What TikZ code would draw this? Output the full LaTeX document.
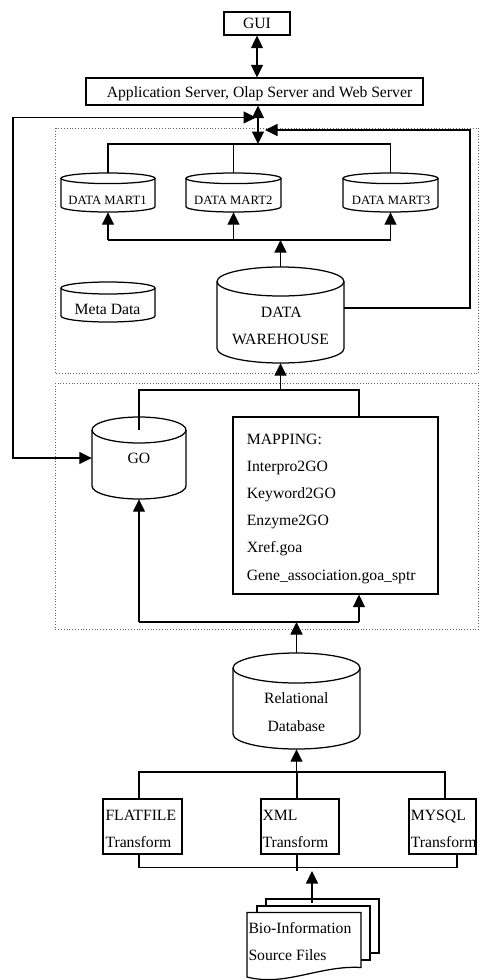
\documentclass[tikz,border=0pt]{standalone}
\usepackage{fontspec}
\setmainfont{Liberation Serif}
\usetikzlibrary{arrows.meta}
\newcommand\dbcyl[6]{%
  \pgfmathsetmacro\mycx{(#2+#4)/2}%
  \pgfmathsetmacro\myrx{(#4-#2)/2}%
  \pgfmathsetmacro\mycy{-(#3+#5)/2}%
  \pgfmathsetmacro\myhh{#5-#3}%
  \pgfmathsetmacro\mytopy{-(#3+#6)}%
  \pgfmathsetmacro\mybot{-(#5-#6)}%
  \node[minimum width={2*\myrx*1pt}, minimum height={\myhh*1pt}, inner sep=0pt, draw=none] (#1) at (\mycx,\mycy) {};
  \coordinate (#1-top) at (\mycx,\mytopy);
  \draw[cylline] (#1-top) ellipse[x radius=\myrx, y radius=#6];
  \draw[cylline] (#2,\mytopy) -- (#2,\mybot) arc[start angle=180,end angle=360,x radius=\myrx,y radius=#6] -- (#4,\mytopy);
}
\begin{document}
\begin{tikzpicture}[x=1pt,y=1pt,
  ln/.style={line width=1.25pt},
  arr/.style={ln,-{Triangle[length=12.5pt,width=12pt]}},
  dbl/.style={ln,{Triangle[length=12.5pt,width=12pt]}-{Triangle[length=12.5pt,width=12pt]}},
  boxn/.style={draw,line width=1.25pt,inner sep=0pt,rectangle},
  dotbox/.style={draw=black!60,dotted,line width=0.8pt},
  txt/.style={inner sep=0pt,font=\fontsize{15.7}{18}\selectfont},
  smtxt/.style={inner sep=0pt,font=\fontsize{12.7}{15}\selectfont},
  cylline/.style={line width=1.25pt}]
\useasboundingbox[fill=white] (0,0) rectangle (480,-980);

% dotted group boxes
\draw[dotbox] (55,-128) rectangle (478.5,-373);
\draw[dotbox] (55,-383) rectangle (478.5,-629);

% boxes
\node[boxn, minimum width=66pt, minimum height=23pt] (gui) at (257,-23.5) {};
\node[txt, anchor=base] (guit) at (257,-28.3) {GUI};
\node[boxn, minimum width=337pt, minimum height=27pt] (app) at (254.5,-91.5) {};
\node[txt, anchor=base] (appt) at (259.5,-97.5) {Application Server, Olap Server and Web Server};

% cylinders
\dbcyl{dm1}{61}{173}{155}{212}{5.3}
\dbcyl{dm2}{186}{173}{281}{212}{5.3}
\dbcyl{dm3}{343}{173}{438}{212}{5.3}
\dbcyl{meta}{61}{282}{155}{322}{6}
\dbcyl{dw}{217}{267}{344}{363}{14.5}
\dbcyl{go}{92}{417}{186}{499}{13}
\dbcyl{rdb}{233}{653}{360}{749}{15}

\node[smtxt, anchor=base] (dm1t) at (107.5,-204) {DATA MART1};
\node[smtxt, anchor=base] (dm2t) at (233.3,-204) {DATA MART2};
\node[smtxt, anchor=base] (dm3t) at (391,-204) {DATA MART3};
\node[txt, anchor=base] (metat) at (107.5,-314) {Meta Data};
\node[txt, anchor=base] (dwt1) at (281.3,-317.7) {DATA};
\node[txt, anchor=base] (dwt2) at (280.5,-344) {WAREHOUSE};
\node[txt, anchor=base] (got) at (139,-463) {GO};
\node[txt, anchor=base] (rdbt1) at (296.3,-703) {Relational};
\node[txt, anchor=base] (rdbt2) at (296.3,-731) {Database};

% mapping box
\node[boxn, minimum width=205pt, minimum height=177pt] (map) at (335.5,-505.5) {};
\foreach \t [count=\k from 0] in {MAPPING:,Interpro2GO,Keyword2GO,Enzyme2GO,Xref.goa,Gene\_association.goa\_sptr}
  \node[txt, anchor=base west] (map\k) at (246.7,{-444-27.2*\k}) {\t};

% transform boxes
\node[boxn, minimum width=79pt, minimum height=55pt] (ff) at (142.5,-826.5) {};
\node[boxn, minimum width=78pt, minimum height=55pt] (xml) at (300,-826.5) {};
\node[boxn, minimum width=67pt, minimum height=55pt] (my) at (442.5,-826.5) {};
\node[txt, anchor=base west] (fft1) at (105.3,-820.5) {FLATFILE};
\node[txt, anchor=base west] (fft2) at (105.3,-847.5) {Transform};
\node[txt, anchor=base west] (xmlt1) at (262.3,-820.5) {XML};
\node[txt, anchor=base west] (xmlt2) at (262.3,-847.5) {Transform};
\node[txt, anchor=base west] (myt1) at (410.7,-820.5) {MYSQL};
\node[txt, anchor=base west] (myt2) at (410.7,-847.5) {Transform};

% document stack
\node[minimum width=132pt, minimum height=81pt, inner sep=0pt, draw=none] (doc) at (313,-939.5) {};
\draw[ln, fill=white] (266,-899) rectangle (379,-953);
\draw[ln, fill=white] (257,-906) rectangle (370,-960);
\draw[ln, fill=white] (247,-912.5) -- (361,-912.5) -- (361,-967.5)
   .. controls (320,-965) and (285,-987) .. (247,-977) -- cycle;
\node[txt, anchor=base west] (doct1) at (248.3,-933.3) {Bio-Information};
\node[txt, anchor=base west] (doct2) at (248.3,-960.7) {Source Files};

% coordinates
\coordinate (mt) at (258,-144);
\coordinate (lc) at (13,-117.5);
\coordinate (lt) at (256,-117.5);
\coordinate (rc) at (470,-130);
\coordinate (rt) at (265,-130);
\coordinate (mb) at (281,-240);
\coordinate (b2) at (139,-390);
\coordinate (b3) at (297,-622);
\coordinate (b4) at (297,-772);
\coordinate (b5) at (312,-871);

% connectors top
\draw[dbl] (gui.south) -- (gui.south |- app.north);
\draw[dbl] (app.south -| mt) -- (mt);
\draw[dbl] (go.west) -| (lc) -- (lt);
\draw[arr] ([yshift=7pt]dw.east) -| (rc) -- (rt);

% mart buses
\draw[ln] (dm1.north) |- (mt) -| (dm3.north);
\draw[ln] (dm2.north) -- (dm2.north |- mt);
\draw[ln] (dm1.south |- mb) -- (dm3.south |- mb);
\draw[arr] (dm1.south |- mb) -- (dm1.south);
\draw[arr] (dm2.south |- mb) -- (dm2.south);
\draw[arr] (dm3.south |- mb) -- (dm3.south);
\draw[arr] (dw.north) -- (dw.north |- mb);

% group 2
\draw[arr] (dw.south |- b2) -- (dw.south);
\draw[ln] (go-top) -- (go-top |- b2) -| ([xshift=23.5pt]map.north);
\draw[arr] (go.south |- b3) -- (go.south);
\draw[ln] (go.south |- b3) -- ([xshift=23.5pt]map.south |- b3);
\draw[arr] ([xshift=23.5pt]map.south |- b3) -- ([xshift=23.5pt]map.south);
\draw[arr] (rdb.north) -- (rdb.north |- b3);

% transforms
\draw[arr] (rdb.south |- b4) -- (rdb.south);
\draw[ln] ([xshift=-3.5pt]ff.north) |- ([xshift=2.5pt]my.north |- b4) -- ([xshift=2.5pt]my.north);
\draw[ln] ([xshift=-3pt]xml.north) -- ([xshift=-3pt]xml.north |- b4);
\draw[ln] ([xshift=-3.5pt]ff.south) -- ++(0,-13) -| ([xshift=14.5pt]my.south);
\draw[ln] ([xshift=-3pt]xml.south) -- ++(0,-16);
\draw[arr] ([yshift=-4pt]doc.north -| b5) -- (b5);
\end{tikzpicture}
\end{document}
